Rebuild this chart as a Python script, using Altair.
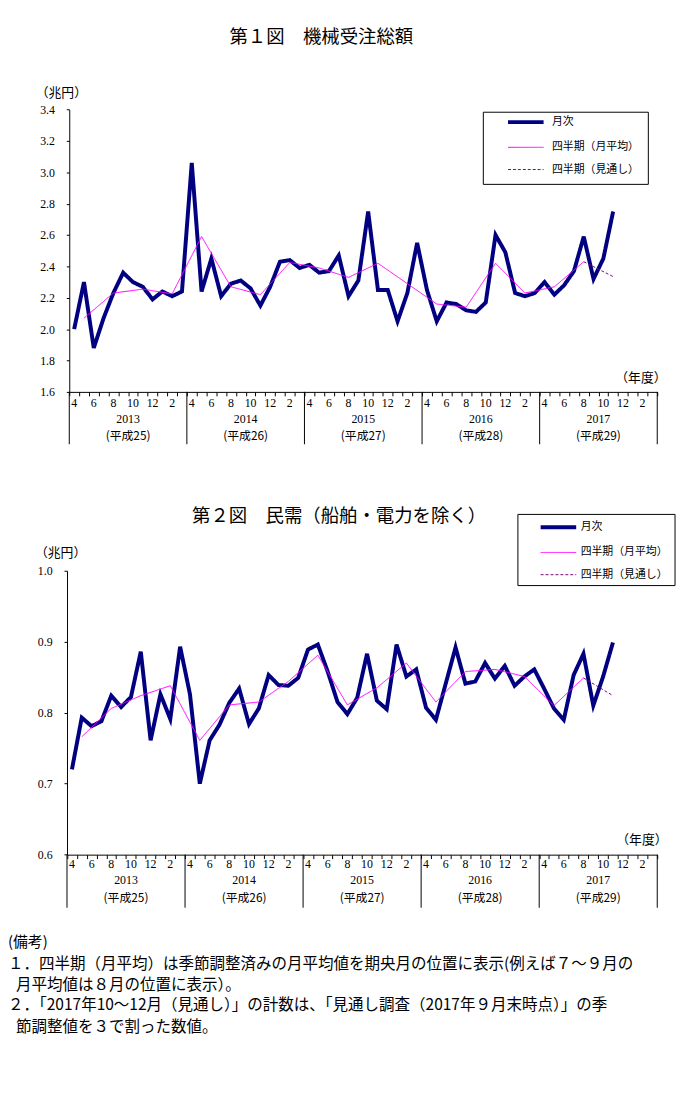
import altair as alt
import pandas as pd

JP = "Noto Sans CJK JP"
NUM = "Liberation Serif"

# ---------------- data ----------------
FISCAL_YEARS = ["2013", "2014", "2015", "2016", "2017"]
HEISEI = ["(平成25)", "(平成26)", "(平成27)", "(平成28)", "(平成29)"]
MONTHS = [4, 5, 6, 7, 8, 9, 10, 11, 12, 1, 2, 3]
LABELLED_MONTHS = [4, 6, 8, 10, 12, 2]
SERIES = ["月次", "四半期（月平均）", "四半期（見通し）"]
SERIES_COLORS = ["#000080", "#FF00FF", "#800080"]

# Fig.1 machinery orders total (trillion yen), FY2013 Apr -> FY2017 Nov
TOTAL_MONTHLY = [
    2.00, 2.30, 1.88, 2.07, 2.23, 2.36, 2.30, 2.27, 2.19, 2.24, 2.21, 2.24,
    3.06, 2.24, 2.45, 2.21, 2.29, 2.31, 2.26, 2.15, 2.27, 2.43, 2.44, 2.39,
    2.41, 2.36, 2.37, 2.47, 2.21, 2.31, 2.75, 2.25, 2.25, 2.05, 2.23, 2.55,
    2.25, 2.05, 2.17, 2.16, 2.12, 2.11, 2.17, 2.60, 2.49, 2.23, 2.21, 2.23,
    2.30, 2.22, 2.28, 2.37, 2.59, 2.32, 2.45, 2.75,
]
# quarterly monthly averages, plotted at the middle month of each quarter
TOTAL_QUARTERLY = [
    2.07, 2.23, 2.255, 2.225,
    2.59, 2.27, 2.22, 2.425,
    2.39, 2.33, 2.42, 2.29,
    2.16, 2.14, 2.42, 2.23,
    2.27, 2.43,
]
TOTAL_OUTLOOK = [2.335]
TOTAL_TICKS = [1.6, 1.8, 2.0, 2.2, 2.4, 2.6, 2.8, 3.0, 3.2, 3.4]

# Fig.2 private demand excl. ships & electric power (trillion yen)
PRIVATE_MONTHLY = [
    0.720, 0.793, 0.781, 0.788, 0.824, 0.808, 0.822, 0.886, 0.761, 0.826, 0.791, 0.893,
    0.826, 0.700, 0.761, 0.783, 0.814, 0.834, 0.784, 0.806, 0.853, 0.839, 0.838, 0.849,
    0.889, 0.896, 0.858, 0.815, 0.798, 0.821, 0.883, 0.817, 0.805, 0.896, 0.851, 0.861,
    0.807, 0.790, 0.841, 0.892, 0.841, 0.844, 0.870, 0.848, 0.866, 0.838, 0.851, 0.861,
    0.834, 0.806, 0.790, 0.853, 0.883, 0.810, 0.851, 0.899,
]
PRIVATE_QUARTERLY = [
    0.766, 0.806, 0.824, 0.838,
    0.761, 0.811, 0.815, 0.844,
    0.881, 0.811, 0.835, 0.870,
    0.815, 0.858, 0.861, 0.851,
    0.810, 0.849,
]
PRIVATE_OUTLOOK = [0.824]
PRIVATE_TICKS = [0.6, 0.7, 0.8, 0.9, 1.0]

TITLE_1 = "第１図　機械受注総額"
TITLE_2 = "第２図　民需（船舶・電力を除く）"
UNIT = "（兆円）"
FY_LABEL = "（年度）"
NOTES = [
    "(備考)",
    "１．四半期（月平均）は季節調整済みの月平均値を期央月の位置に表示(例えば７～９月の",
    "月平均値は８月の位置に表示）。",
    "２．「2017年10～12月（見通し）」の計数は、「見通し調査（2017年９月末時点）」の季",
    "節調整値を３で割った数値。",
]

# ---------------- layout ----------------
W, H = 677, 1083
N_MONTHS = 12 * len(FISCAL_YEARS)

GEO_1 = dict(x0=62, x1=657, y0=382, y1=96.3, unit_x=-8.5, unit_y=79, fy_x=640,
             box=(481, 99, 648, 172), leg_dy=1, sym_off=34, lab_off=21,
             m_y=393, yr_y=409, era_y=426.5, sep_y2=435)
GEO_2 = dict(x0=59.7, x1=657, y0=850.3, y1=563, unit_x=-7, unit_y=545, fy_x=641,
             box=(516, 506, 675, 578), leg_dy=4, sym_off=32, lab_off=17,
             m_y=860, yr_y=876, era_y=894, sep_y2=904)


def frames(monthly, quarterly, outlook):
    m = pd.DataFrame({"pos": [i + 0.5 for i in range(len(monthly))],
                      "value": monthly, "series": SERIES[0]})
    qpos = [3 * k + 1.5 for k in range(len(quarterly))]
    q = pd.DataFrame({"pos": qpos, "value": quarterly, "series": SERIES[1]})
    o = pd.DataFrame({"pos": [qpos[-1], qpos[-1] + 3],
                      "value": [quarterly[-1], outlook[0]], "series": SERIES[2]})
    return m, q, o


month_labels = pd.DataFrame([
    {"pos": 12 * k + MONTHS.index(mo) + 0.5, "label": str(mo)}
    for k in range(len(FISCAL_YEARS)) for mo in LABELLED_MONTHS
])
year_labels = pd.DataFrame([
    {"pos": 12 * k + 6, "year": y, "era": e}
    for k, (y, e) in enumerate(zip(FISCAL_YEARS, HEISEI))
])
year_bounds = pd.DataFrame({"pos": [12 * k for k in range(len(FISCAL_YEARS) + 1)]})
one = pd.DataFrame({"k": [0]})


def panel(monthly, quarterly, outlook, y_domain, y_ticks, g):
    xs = alt.Scale(domain=[0, N_MONTHS], range=[g["x0"], g["x1"]], nice=False, zero=False)
    ys = alt.Scale(domain=y_domain, range=[g["y0"], g["y1"]], nice=False, zero=False)
    x_axis = alt.Axis(
        orient="bottom", offset=g["y0"] - H, values=list(range(N_MONTHS + 1)),
        labels=False, grid=False, ticks=True, tickSize=4, tickColor="black",
        domainColor="black", title=FY_LABEL, titleFont=JP, titleFontSize=13,
        titleFontWeight="normal", titleColor="black", titleX=g["fy_x"], titleY=-15,
        titleAlign="center", titleBaseline="middle", titleAngle=0,
    )
    y_axis = alt.Axis(
        orient="left", offset=-g["x0"], values=y_ticks, format=".1f", grid=False,
        tickSize=3, tickColor="black", domainColor="black", labelPadding=12,
        labelFont=NUM, labelFontSize=12, labelColor="black",
        title=UNIT, titleFont=JP, titleFontSize=13, titleFontWeight="normal",
        titleColor="black", titleAngle=0, titleX=g["unit_x"], titleY=g["unit_y"],
        titleAlign="center", titleBaseline="middle",
    )
    bx0, by0, bx1, by1 = g["box"]
    legend = alt.Legend(
        title=None, orient="none", legendX=bx0, legendY=by0 + g["leg_dy"],
        symbolType="M-2.25,0L2.25,0", symbolSize=256,
        symbolOffset=g["sym_off"], labelOffset=g["lab_off"],
        symbolStrokeWidth={"expr": "datum.value === '月次' ? 4 : 1"},
        labelFont=JP, labelFontSize=11, labelColor="black",
        padding=3.5, rowPadding=10.5,
    )
    cs = alt.Scale(domain=SERIES, range=SERIES_COLORS)
    ds = alt.Scale(domain=SERIES, range=[[1, 0], [1, 0], [3, 2]])

    def enc(width):
        return dict(
            x=alt.X("pos:Q", scale=xs, axis=x_axis),
            y=alt.Y("value:Q", scale=ys, axis=y_axis),
            color=alt.Color("series:N", scale=cs, legend=legend),
            strokeDash=alt.StrokeDash("series:N", scale=ds, legend=legend),
            strokeWidth=alt.value(width),
        )

    frame = alt.Chart(one).mark_rect(fill="white", stroke="black", strokeWidth=1).encode(
        x=alt.value(bx0), x2=alt.value(bx1), y=alt.value(by0), y2=alt.value(by1))

    m, q, o = frames(monthly, quarterly, outlook)
    l_m = alt.Chart(m).mark_line().encode(**enc(4))
    l_q = alt.Chart(q).mark_line().encode(**enc(1))
    l_o = alt.Chart(o).mark_line().encode(**enc(1))

    xx = alt.X("pos:Q", scale=xs, axis=x_axis)
    seps = alt.Chart(year_bounds).mark_rule(color="black", strokeWidth=1).encode(
        x=xx, y=alt.value(g["y0"]), y2=alt.value(g["sep_y2"]))
    mlab = alt.Chart(month_labels).mark_text(
        font=NUM, fontSize=12, color="black", baseline="middle", align="center"
    ).encode(x=xx, y=alt.value(g["m_y"]), text="label:N")
    ylab = alt.Chart(year_labels).mark_text(
        font=NUM, fontSize=12, color="black", baseline="middle", align="center"
    ).encode(x=xx, y=alt.value(g["yr_y"]), text="year:N")
    elab = alt.Chart(year_labels).mark_text(
        font=JP, fontSize=12, color="black", baseline="middle", align="center"
    ).encode(x=xx, y=alt.value(g["era_y"]), text="era:N")
    return alt.layer(frame, l_m, l_q, l_o, seps, mlab, ylab, elab)


p1 = panel(TOTAL_MONTHLY, TOTAL_QUARTERLY, TOTAL_OUTLOOK, [1.6, 3.4], TOTAL_TICKS, GEO_1)
p2 = panel(PRIVATE_MONTHLY, PRIVATE_QUARTERLY, PRIVATE_OUTLOOK, [0.6, 1.0], PRIVATE_TICKS, GEO_2)


def text_at(txt, x, y, size, align="left"):
    return alt.Chart(one).mark_text(
        text=txt, font=JP, fontSize=size, color="black", align=align, baseline="middle"
    ).encode(x=alt.value(x), y=alt.value(y))


texts = [
    text_at(TITLE_1, 317, 23, 18.6, "center"),
    text_at(TITLE_2, 335, 508, 18.6, "center"),
    text_at(NOTES[0], 0, 939, 15),
    text_at(NOTES[1], 0, 961, 15.7),
    text_at(NOTES[2], 8, 982, 15.7),
    text_at(NOTES[3], 0, 1003, 15.7),
    text_at(NOTES[4], 8, 1025, 15.7),
]

chart = alt.layer(p1, p2, *texts).resolve_scale(
    x="independent", y="independent", color="independent", strokeDash="independent",
).resolve_axis(x="independent", y="independent").resolve_legend(
    color="independent", strokeDash="independent"
).properties(
    width=W, height=H, padding=0, autosize=alt.AutoSizeParams(type="none"),
    background="white",
).configure_view(stroke=None)

chart.save("out.html", embed_options={"renderer": "svg", "actions": False})
